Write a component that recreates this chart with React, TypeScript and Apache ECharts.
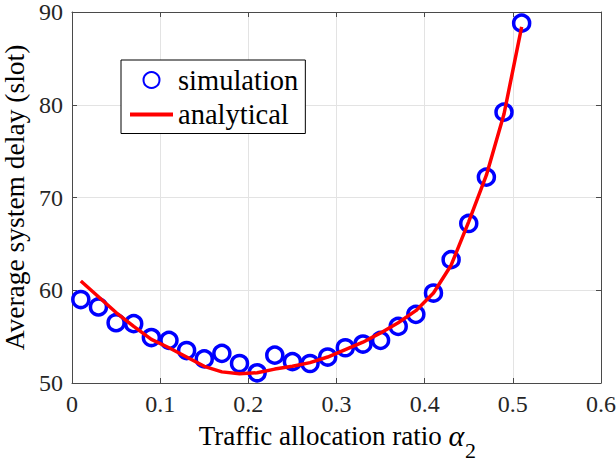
import React, { useEffect, useRef } from "react";
import * as echarts from "echarts";

const xValues = [0.01, 0.03, 0.05, 0.07, 0.09, 0.11, 0.13, 0.15, 0.17, 0.19, 0.21, 0.23, 0.25, 0.27, 0.29, 0.31, 0.33, 0.35, 0.37, 0.39, 0.41, 0.43, 0.45, 0.47, 0.49, 0.51];
const simulation = [59.0, 58.2, 56.5, 56.4, 54.9, 54.6, 53.5, 52.6, 53.2, 52.1, 51.1, 53.0, 52.3, 52.1, 52.8, 53.8, 54.2, 54.6, 56.1, 57.4, 59.7, 63.3, 67.2, 72.2, 79.2, 88.8];
const analytical = [61.0, 59.3, 57.6, 56.1, 54.7, 53.8, 52.8, 51.8, 51.2, 51.0, 51.1, 51.5, 51.8, 52.2, 52.8, 53.6, 54.4, 55.4, 56.5, 57.8, 59.7, 62.7, 67.4, 72.4, 79.0, 88.4];
const xTicks = [0, 0.1, 0.2, 0.3, 0.4, 0.5, 0.6];
const yTicks = [50, 60, 70, 80, 90];

const FONT = "Liberation Serif";
const AXIS_COLOR = "#4a4a4a";
const GRID_COLOR = "#e3e3e3";

export default function App() {
  const ref = useRef<HTMLDivElement>(null);
  useEffect(() => {
    if (!ref.current) return;
    const chart = echarts.init(ref.current, undefined, { renderer: "svg" });
    const axisCommon = {
      axisLine: { show: true, onZero: false, lineStyle: { color: AXIS_COLOR, width: 1 } },
      axisTick: { show: true, inside: true, length: 5, lineStyle: { color: AXIS_COLOR, width: 1 } },
    };
    chart.setOption({
      animation: false,
      backgroundColor: "#ffffff",
      textStyle: { fontFamily: FONT },
      grid: { left: 72, right: 15, top: 12, bottom: 83, containLabel: false, outerBoundsMode: "none" },
      legend: {
        left: 121,
        top: 60,
        orient: "vertical",
        padding: [5.5, 7, 4.5, 9],
        itemGap: 5.5,
        itemWidth: 43,
        itemHeight: 16,
        borderColor: "#000000",
        borderWidth: 1,
        borderRadius: 0,
        backgroundColor: "#ffffff",
        textStyle: { fontFamily: FONT, fontSize: 28.5, color: "#000000" },
        data: [
          { name: "simulation", icon: "circle" },
          { name: "analytical", icon: "path://M0,0L43,0L43,4L0,4Z", itemStyle: { color: "#ff0000", borderWidth: 0 } },
        ],
      },
      graphic: [
        {
          type: "text",
          left: 465,
          top: 439,
          z: 10,
          style: { text: "2", fontFamily: FONT, fontSize: 22, fill: "#000000" },
        },
      ],
      xAxis: [
        {
          type: "value",
          position: "bottom",
          min: xTicks[0],
          max: xTicks[xTicks.length - 1],
          interval: 0.1,
          ...axisCommon,
          axisLabel: {
            fontFamily: FONT,
            fontSize: 24,
            color: "#262626",
            margin: 9,
            formatter: (v: number) => String(Math.round(v * 10) / 10),
          },
          splitLine: { show: true, lineStyle: { color: GRID_COLOR, width: 1 } },
          name: "{a|Traffic allocation ratio }{g|α}",
          nameLocation: "middle",
          nameGap: 24,
          nameTextStyle: {
            fontFamily: FONT,
            color: "#000000",
            padding: [0, 10, 0, 0],
            rich: {
              a: { fontFamily: FONT, fontSize: 27, color: "#000" },
              g: { fontFamily: FONT, fontSize: 30, fontStyle: "italic", color: "#000" },
            },
          },
        },
        {
          type: "value",
          position: "top",
          min: xTicks[0],
          max: xTicks[xTicks.length - 1],
          interval: 0.1,
          ...axisCommon,
          axisLabel: { show: false },
          splitLine: { show: false },
        },
      ],
      yAxis: [
        {
          type: "value",
          position: "left",
          min: yTicks[0],
          max: yTicks[yTicks.length - 1],
          interval: 10,
          ...axisCommon,
          axisLabel: { fontFamily: FONT, fontSize: 24, color: "#262626", margin: 9 },
          splitLine: { show: true, lineStyle: { color: GRID_COLOR, width: 1 } },
          name: "Average system delay (slot)",
          nameLocation: "middle",
          nameGap: 38,
          nameTextStyle: { fontFamily: FONT, fontSize: 27.5, color: "#000000" },
        },
        {
          type: "value",
          position: "right",
          min: yTicks[0],
          max: yTicks[yTicks.length - 1],
          interval: 10,
          ...axisCommon,
          axisLabel: { show: false },
          splitLine: { show: false },
        },
      ],
      series: [
        {
          name: "simulation",
          type: "scatter",
          xAxisIndex: 0,
          yAxisIndex: 0,
          symbol: "circle",
          symbolSize: 16,
          z: 2,
          itemStyle: { color: "rgba(255,255,255,0)", borderColor: "#0000ff", borderWidth: 3.5, opacity: 1 },
          data: xValues.map((x, i) => [x, simulation[i]]),
        },
        {
          name: "analytical",
          type: "line",
          xAxisIndex: 0,
          yAxisIndex: 0,
          symbol: "none",
          showSymbol: false,
          z: 3,
          lineStyle: { color: "#ff0000", width: 3.5 },
          itemStyle: { color: "#ff0000" },
          data: xValues.map((x, i) => [x, analytical[i]]),
        },
      ],
    });
    return () => chart.dispose();
  }, []);
  return <div ref={ref} style={{ width: 616, height: 466, position: "absolute", left: 0, top: 0 }} />;
}
